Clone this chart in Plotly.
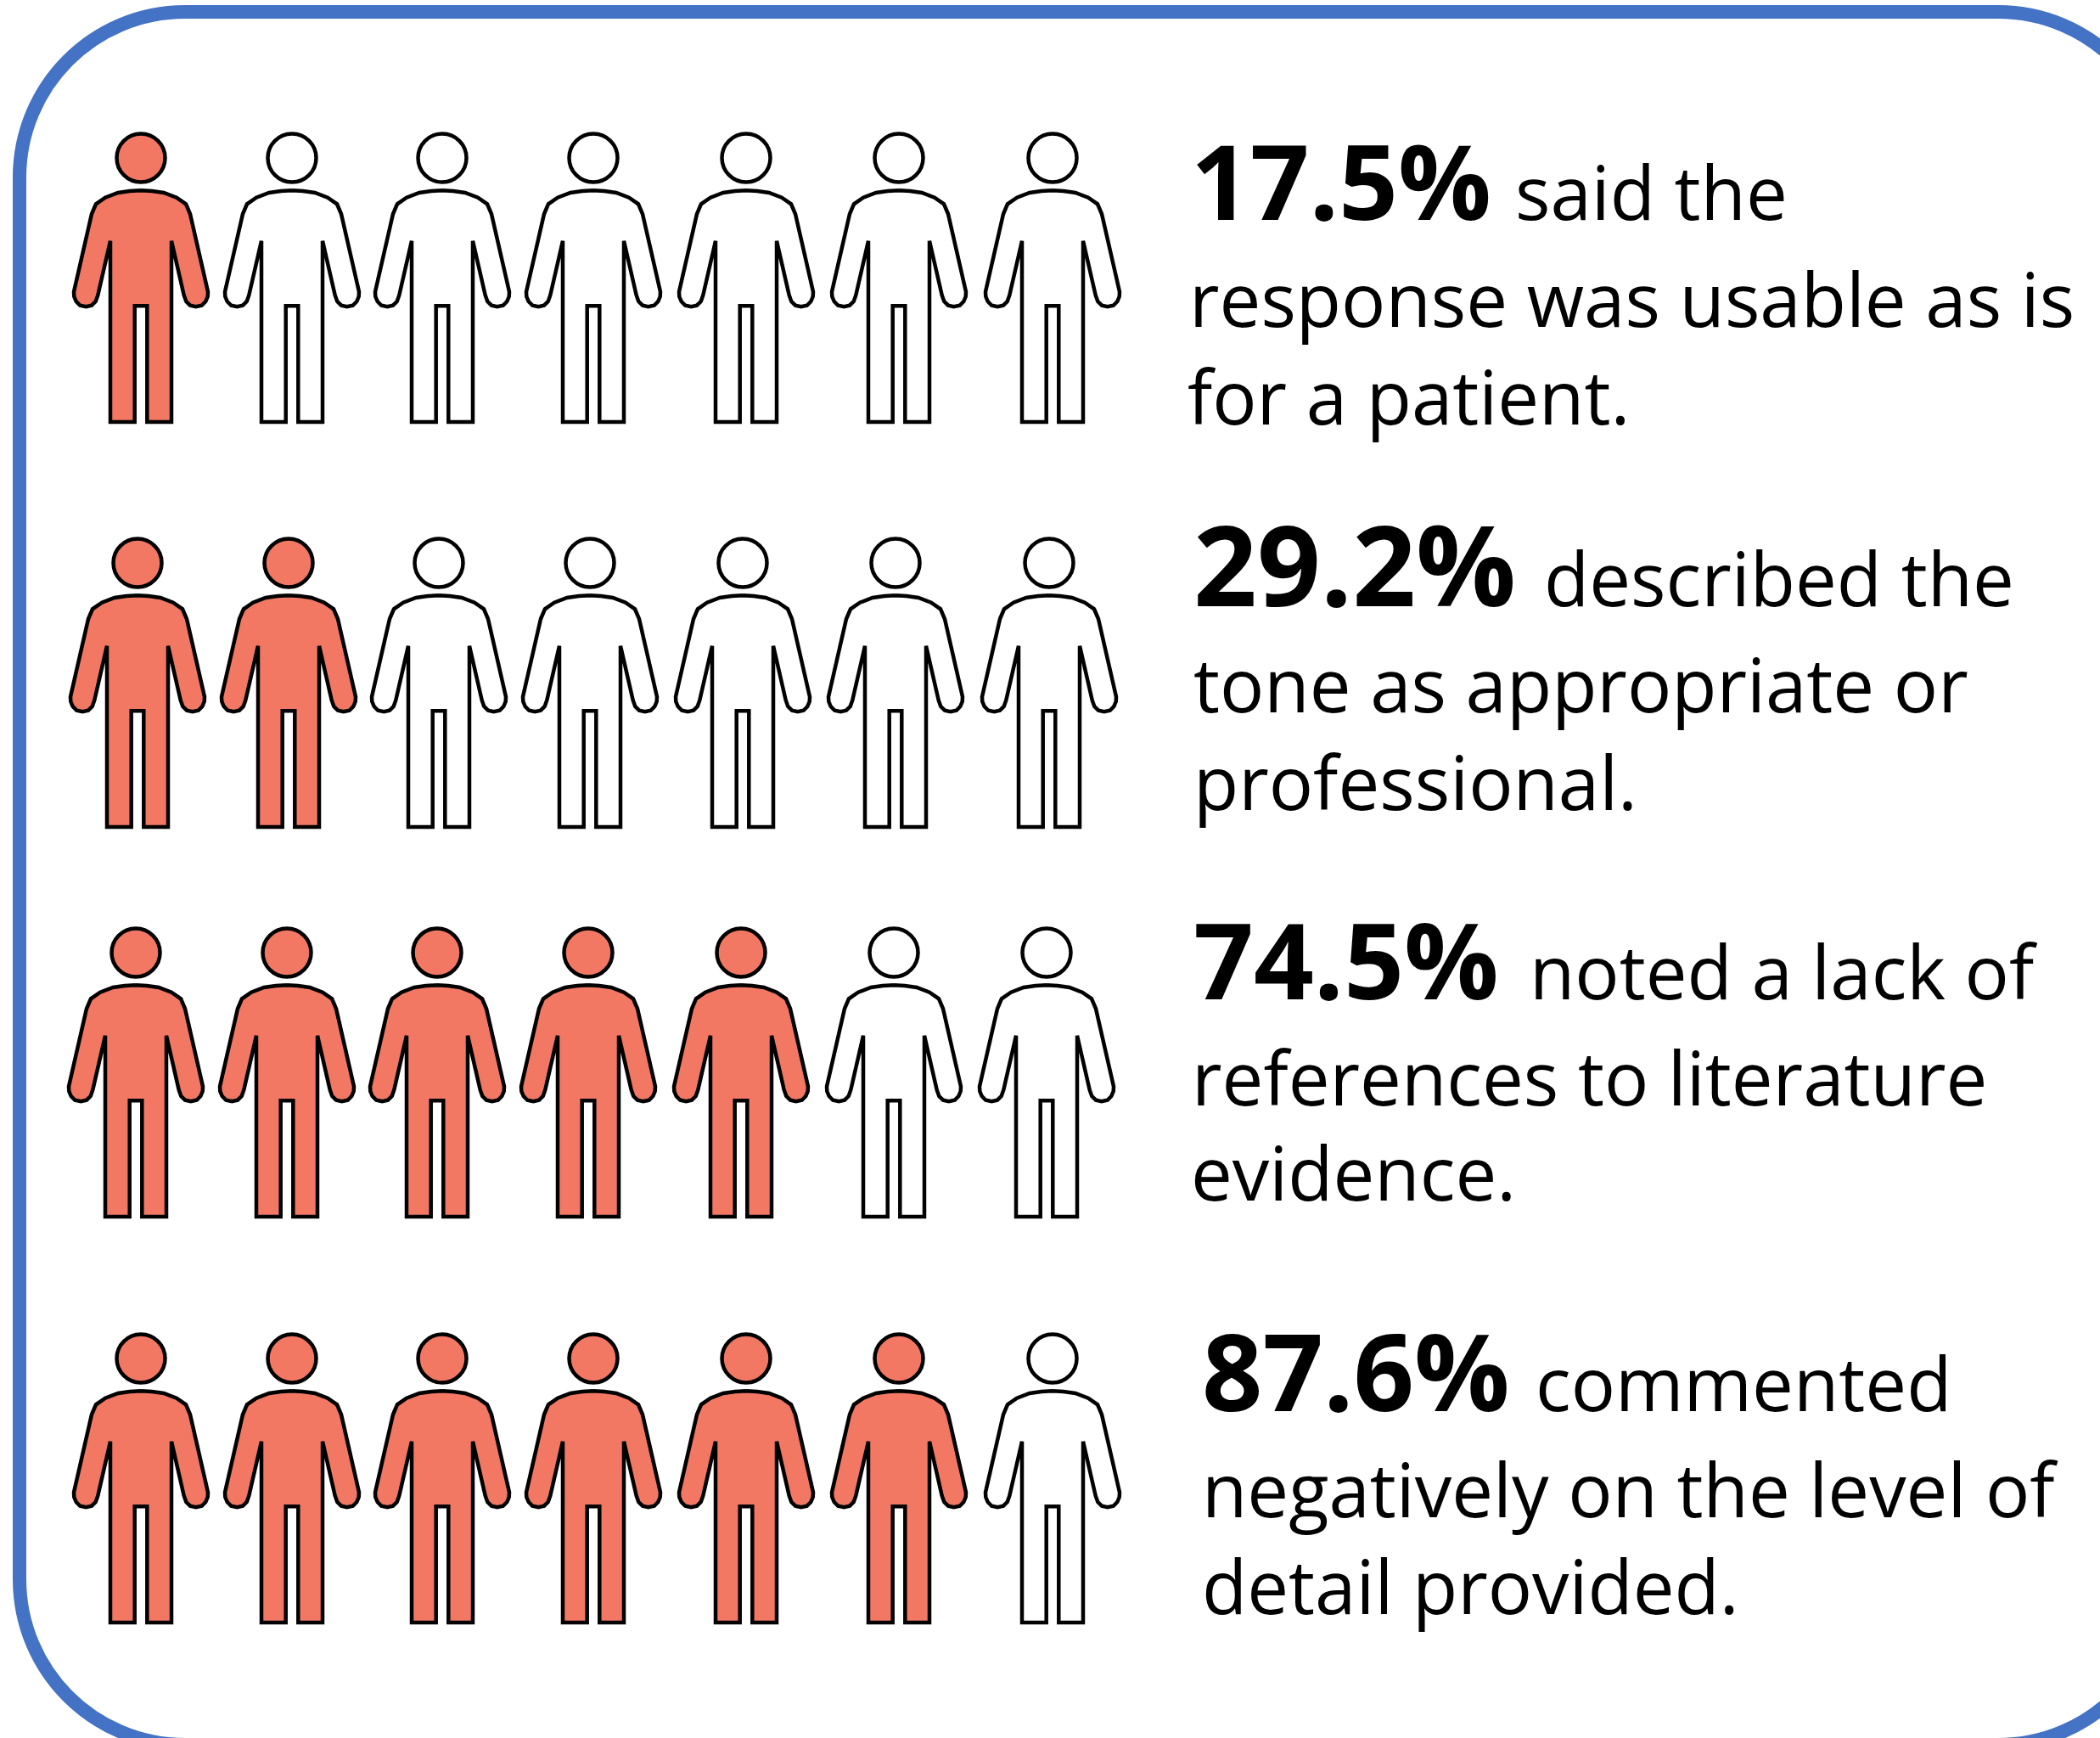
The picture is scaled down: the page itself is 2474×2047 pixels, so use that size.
import plotly.graph_objects as go

# Survey results shown as rows of seven people
PERCENTS = [17.5, 29.2, 74.5, 87.6]
PERCENT_LABELS = ["17.5%", "29.2%", "74.5%", "87.6%"]
LEAD_WORDS = ["said the", "described the", "noted a lack of", "commented"]
SECOND_LINES = ["response was usable as is", "tone as appropriate or",
                "references to literature", "negatively on the level of"]
THIRD_LINES = ["for a patient.", "professional.", "evidence.", "detail provided."]

PEOPLE_PER_ROW = 7
ROW_HEAD_Y = [186, 663, 1122, 1600]
ROW_COLUMN_X = [
    [166, 344, 521, 699, 879, 1059, 1240],
    [162, 340, 517, 695, 875, 1055, 1236],
    [160, 338, 515, 693, 873, 1053, 1233],
    [166, 344, 521, 699, 879, 1059, 1240],
]

# Text placement per row: left edge and baseline of each piece
LABEL_X = [1402, 1405, 1405, 1415]
LEAD_X = [1784, 1818, 1801, 1808]
LINE2_X = [1400, 1405, 1403, 1415]
LINE3_X = [1398, 1405, 1402, 1415]
LINE1_BASE = [260, 715, 1178, 1663]
LINE2_BASE = [386, 840, 1303, 1788]
LINE3_BASE = [501, 955, 1415, 1902]
LEAD_BASE = [260, 715, 1178, 1663]

FILL_ON = "#F27864"
FILL_OFF = "#FFFFFF"
FRAME_COLOR = "#4472C4"
INK = "#000000"
FONT = "Open Sans"
LABEL_SIZES = [122, 131, 124, 125]
BODY_SIZE = 87

# Right half of the body outline, measured from the head centre
HALF_BODY = [(0, 38.3), (13, 39), (27, 41), (42, 46.7), (53, 54.3), (56, 60), (58, 66),
             (79, 157.7), (78.7, 163.3), (76.3, 169), (71.7, 173.7), (64.7, 175.3),
             (58, 173.7), (53.3, 169), (50.7, 161.7), (36, 97.7), (36, 311),
             (7.3, 311), (7.3, 174.3)]
OUTLINE_X = [p[0] for p in HALF_BODY] + [-p[0] for p in reversed(HALF_BODY)]
OUTLINE_Y = [p[1] for p in HALF_BODY] + [p[1] for p in reversed(HALF_BODY)]

fig = go.Figure()

for row, pct in enumerate(PERCENTS):
    filled = round(pct / 100 * PEOPLE_PER_ROW)
    head_y = ROW_HEAD_Y[row]
    for col, cx in enumerate(ROW_COLUMN_X[row]):
        color = FILL_ON if col < filled else FILL_OFF
        fig.add_trace(go.Scatter(
            x=[cx + v for v in OUTLINE_X], y=[head_y + v for v in OUTLINE_Y],
            mode="lines", fill="toself", fillcolor=color,
            line=dict(color=INK, width=4.5), hoverinfo="skip", showlegend=False))
        fig.add_trace(go.Scatter(
            x=[cx], y=[head_y], mode="markers",
            marker=dict(size=57, color=color, line=dict(color=INK, width=4.5)),
            hoverinfo="skip", showlegend=False))


def add_text(x, baseline, text, size, bold=False):
    # Open Sans descends about 0.293 em below the baseline
    fig.add_annotation(
        x=x, y=baseline + 0.293 * size, text=f"<b>{text}</b>" if bold else text,
        xref="x", yref="y", xanchor="left", yanchor="bottom", align="left",
        showarrow=False, borderpad=0,
        font=dict(family=FONT, size=size, color=INK))


for row in range(len(PERCENTS)):
    add_text(LABEL_X[row], LINE1_BASE[row], PERCENT_LABELS[row], LABEL_SIZES[row], bold=True)
    add_text(LEAD_X[row], LEAD_BASE[row], LEAD_WORDS[row], BODY_SIZE)
    add_text(LINE2_X[row], LINE2_BASE[row], SECOND_LINES[row], BODY_SIZE)
    add_text(LINE3_X[row], LINE3_BASE[row], THIRD_LINES[row], BODY_SIZE)

# Rounded frame, its right and bottom sides running past the page
L, T, R, B, r = 23, 14, 2549, 2055, 195
k = r * 0.4477
frame = (f"M {L + r} {T} L {R - r} {T} C {R - k} {T} {R} {T + k} {R} {T + r} "
         f"L {R} {B - r} C {R} {B - k} {R - k} {B} {R - r} {B} "
         f"L {L + r} {B} C {L + k} {B} {L} {B - k} {L} {B - r} "
         f"L {L} {T + r} C {L} {T + k} {L + k} {T} {L + r} {T} Z")
fig.add_shape(type="path", path=frame, xref="x", yref="y",
              line=dict(color=FRAME_COLOR, width=16), layer="below")

fig.update_layout(
    width=2474, height=2047, margin=dict(l=0, r=0, t=0, b=0),
    paper_bgcolor="white", plot_bgcolor="white",
    xaxis=dict(range=[0, 2474], visible=False, fixedrange=True),
    yaxis=dict(range=[2047, 0], visible=False, fixedrange=True),
)
fig.write_html("out.html", config=dict(displayModeBar=False))
